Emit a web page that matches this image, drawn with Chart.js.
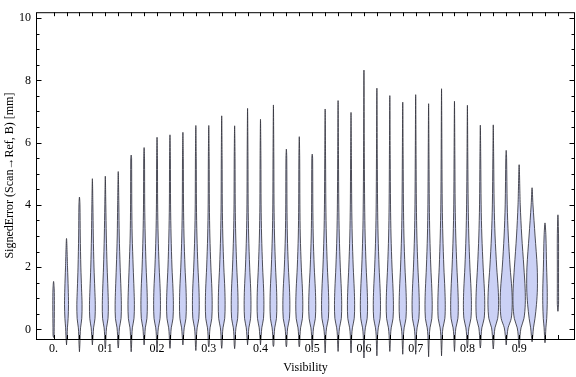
<!DOCTYPE html>
<html>
<head>
<meta charset="utf-8">
<script src="https://cdn.jsdelivr.net/npm/chart.js@4.4.0/dist/chart.umd.min.js"></script>
<style>
  html, body { margin: 0; padding: 0; background: #fff; }
  #wrap { width: 576px; height: 377px; }
</style>
</head>
<body>
<div id="wrap"><canvas id="violins"></canvas></div>
<script>
// violin centres (visibility)
const positions = [
  0, 0.025, 0.05, 0.075, 0.1, 0.125, 0.15, 0.175, 0.2, 0.225,
  0.25, 0.275, 0.3, 0.325, 0.35, 0.375, 0.4, 0.425, 0.45, 0.475,
  0.5, 0.525, 0.55, 0.575, 0.6, 0.625, 0.65, 0.675, 0.7, 0.725,
  0.75, 0.775, 0.8, 0.825, 0.85, 0.875, 0.9, 0.925, 0.95, 0.975
];

// top of each violin (mm)
const maxValues = [
  1.54, 2.92, 4.25, 4.84, 4.92, 5.07, 5.60, 5.84, 6.17, 6.25,
  6.33, 6.55, 6.55, 6.86, 6.54, 7.10, 6.75, 7.21, 5.79, 6.19,
  5.63, 7.08, 7.35, 6.97, 8.33, 7.75, 7.51, 7.30, 7.54, 7.25,
  7.73, 7.33, 7.20, 6.56, 6.57, 5.75, 5.29, 4.55, 3.42, 3.68
];

// bottom of each violin (mm)
const minValues = [
  -0.26, -0.50, -0.72, -0.50, -0.63, -0.60, -0.72, -0.50, -0.72, -0.61,
  -0.50, -0.68, -0.56, -0.61, -0.62, -0.50, -0.50, -0.55, -0.56, -0.56,
  -0.66, -0.76, -0.71, -0.76, -0.92, -0.85, -0.71, -0.80, -0.80, -0.88,
  -0.85, -0.71, -0.60, -0.60, -0.63, -0.50, -0.60, -0.40, -0.43, 0.58
];

// error levels where the violin half-width is sampled
const levels = [-0.5, -0.2, 0.05, 0.35, 0.8, 1.3, 2.0, 3.0, 4.0, 5.5];

// half-width (density) of each violin at those levels
const halfWidths = [
  [0, 0.5, 0.6, 0.7, 0.8, 0.6, 0, 0, 0, 0],
  [0.4, 0.6, 0.9, 1.6, 2.0, 1.7, 1.0, 0, 0, 0],
  [0.4, 0.7, 1.1, 2.3, 2.6, 2.1, 1.4, 0.8, 0.5, 0],
  [0.4, 0.7, 1.2, 2.6, 2.9, 2.4, 1.6, 0.9, 0.5, 0],
  [0.4, 0.7, 1.2, 2.7, 3.0, 2.6, 1.8, 1.0, 0.5, 0],
  [0.4, 0.7, 1.2, 2.8, 3.1, 2.7, 1.9, 1.0, 0.6, 0],
  [0.4, 0.7, 1.2, 2.8, 3.2, 2.8, 2.0, 1.0, 0.6, 0.4],
  [0.4, 0.7, 1.2, 2.8, 3.2, 2.9, 2.0, 1.1, 0.6, 0.4],
  [0.4, 0.7, 1.3, 3.0, 3.4, 3.1, 2.1, 1.1, 0.6, 0.4],
  [0.4, 0.7, 1.3, 3.0, 3.4, 3.0, 2.0, 1.1, 0.6, 0.4],
  [0.4, 0.7, 1.3, 3.0, 3.4, 3.1, 2.1, 1.1, 0.6, 0.4],
  [0.4, 0.7, 1.3, 3.0, 3.4, 3.1, 2.1, 1.1, 0.6, 0.4],
  [0.4, 0.7, 1.3, 3.0, 3.4, 3.1, 2.1, 1.1, 0.6, 0.4],
  [0.4, 0.7, 1.3, 3.0, 3.4, 3.1, 2.1, 1.1, 0.6, 0.4],
  [0.4, 0.7, 1.3, 3.0, 3.4, 3.1, 2.1, 1.1, 0.6, 0.4],
  [0.4, 0.7, 1.3, 3.0, 3.4, 3.1, 2.1, 1.1, 0.6, 0.4],
  [0.4, 0.7, 1.3, 3.0, 3.4, 3.1, 2.1, 1.1, 0.6, 0.4],
  [0.4, 0.7, 1.3, 3.0, 3.4, 3.1, 2.1, 1.1, 0.6, 0.4],
  [0.4, 0.7, 1.3, 3.1, 3.5, 3.1, 2.0, 1.0, 0.6, 0.4],
  [0.4, 0.7, 1.3, 3.1, 3.5, 3.1, 2.0, 1.0, 0.6, 0.4],
  [0.4, 0.7, 1.3, 3.1, 3.5, 3.1, 2.0, 1.0, 0.6, 0.4],
  [0.4, 0.7, 1.4, 3.2, 3.6, 3.2, 2.2, 1.2, 0.7, 0.4],
  [0.4, 0.7, 1.4, 3.2, 3.6, 3.2, 2.2, 1.2, 0.7, 0.4],
  [0.4, 0.7, 1.4, 3.2, 3.6, 3.2, 2.2, 1.2, 0.7, 0.4],
  [0.4, 0.7, 1.4, 3.2, 3.6, 3.2, 2.2, 1.2, 0.7, 0.4],
  [0.4, 0.7, 1.4, 3.2, 3.6, 3.2, 2.2, 1.2, 0.7, 0.4],
  [0.4, 0.7, 1.4, 3.2, 3.6, 3.2, 2.2, 1.2, 0.7, 0.4],
  [0.4, 0.7, 1.4, 3.2, 3.6, 3.2, 2.2, 1.2, 0.7, 0.4],
  [0.4, 0.7, 1.4, 3.2, 3.6, 3.2, 2.2, 1.2, 0.7, 0.4],
  [0.4, 0.7, 1.4, 3.2, 3.6, 3.2, 2.2, 1.2, 0.7, 0.4],
  [0.4, 0.7, 1.4, 3.3, 3.7, 3.3, 2.3, 1.3, 0.7, 0.4],
  [0.4, 0.7, 1.4, 3.4, 3.8, 3.4, 2.4, 1.3, 0.7, 0.4],
  [0.4, 0.8, 1.5, 3.5, 4.0, 3.6, 2.5, 1.4, 0.8, 0.4],
  [0.4, 0.8, 1.5, 3.8, 4.4, 4.0, 2.8, 1.5, 0.8, 0.4],
  [0.4, 0.9, 1.7, 4.4, 5.3, 4.9, 3.4, 1.8, 0.9, 0.4],
  [0.4, 0.9, 1.9, 5.0, 6.0, 5.6, 3.9, 2.1, 1.0, 0.4],
  [0.4, 0.9, 1.9, 4.8, 6.1, 6.0, 4.7, 2.6, 1.1, 0],
  [0, 0.7, 1.4, 2.9, 4.4, 5.3, 5.1, 3.0, 0.9, 0],
  [0, 0.5, 0.9, 1.7, 2.2, 2.2, 1.6, 0.9, 0, 0],
  [0, 0, 0, 0, 0.6, 0.6, 0.6, 0.6, 0, 0]
];

const xTickValues = [0, 0.1, 0.2, 0.3, 0.4, 0.5, 0.6, 0.7, 0.8, 0.9];
const xTickLabels = ['0.', '0.1', '0.2', '0.3', '0.4', '0.5', '0.6', '0.7', '0.8', '0.9'];
const yTickValues = [0, 2, 4, 6, 8, 10];
const yMinorValues = [0, 0.5, 1, 1.5, 2, 2.5, 3, 3.5, 4, 4.5, 5, 5.5, 6, 6.5, 7, 7.5, 8, 8.5, 9, 9.5, 10];

const WIDTH_SCALE = 0.00194; // one density unit ~ one pixel in visibility units
const FONT = { family: "'Liberation Serif', 'DejaVu Serif', serif", size: 12 };

// closed outline: up the right side, down the left side
function outline(i) {
  const x = positions[i];
  const lo = minValues[i];
  const hi = maxValues[i];
  const w = halfWidths[i];
  const inner = [];
  levels.forEach((y, k) => { if (y > lo && y < hi && w[k] > 0) inner.push({ y, k }); });
  const right = inner.map(p => ({ x: x + w[p.k] * WIDTH_SCALE, y: p.y }));
  const left = inner.slice().reverse().map(p => ({ x: x - w[p.k] * WIDTH_SCALE, y: p.y }));
  return [{ x, y: lo }, ...right, { x, y: hi }, ...left, { x, y: lo }];
}

const datasets = positions.map((p, i) => ({
  data: outline(i),
  showLine: true,
  fill: 'shape',
  backgroundColor: 'rgb(203, 209, 245)',
  borderColor: 'rgba(50, 50, 60, 0.85)',
  borderWidth: 1,
  pointRadius: 0,
  tension: 0.3,
  clip: false
}));

// frame with inward ticks on all four sides
const framePlugin = {
  id: 'frame',
  afterDraw(chart) {
    const { ctx, chartArea: a, scales } = chart;
    ctx.save();
    ctx.strokeStyle = '#000';
    ctx.lineWidth = 1;
    ctx.strokeRect(a.left + 0.5, a.top + 0.5, a.right - a.left - 1, a.bottom - a.top);
    ctx.beginPath();
    positions.forEach(v => {
      const px = Math.round(scales.x.getPixelForValue(v)) + 0.5;
      ctx.moveTo(px, a.bottom); ctx.lineTo(px, a.bottom - 4);
      ctx.moveTo(px, a.top); ctx.lineTo(px, a.top + 4);
    });
    yMinorValues.forEach(v => {
      const py = Math.round(scales.y.getPixelForValue(v)) + 0.5;
      const len = yTickValues.includes(v) ? 5.5 : 3.5;
      ctx.moveTo(a.left, py); ctx.lineTo(a.left + len, py);
      ctx.moveTo(a.right, py); ctx.lineTo(a.right - len, py);
    });
    ctx.stroke();
    ctx.restore();
  }
};

new Chart(document.getElementById('violins'), {
  type: 'scatter',
  data: { datasets },
  options: {
    responsive: true,
    maintainAspectRatio: false,
    animation: false,
    layout: { padding: { top: 5, right: 1, left: 0, bottom: 0 } },
    elements: { line: { capBezierPoints: false } },
    plugins: { legend: { display: false }, tooltip: { enabled: false } },
    scales: {
      x: {
        type: 'linear',
        min: -0.034,
        max: 1.008,
        grid: { display: false, drawTicks: false },
        border: { display: false },
        afterBuildTicks: s => { s.ticks = xTickValues.map(value => ({ value })); },
        afterFit: s => { s.height = 38; },
        ticks: {
          color: '#000',
          font: FONT,
          padding: 3,
          maxRotation: 0,
          autoSkip: false,
          callback: (v, idx) => xTickLabels[idx]
        },
        title: { display: true, text: 'Visibility', color: '#000', font: FONT, padding: { top: 0, bottom: 2 } }
      },
      y: {
        min: -0.31,
        max: 10.19,
        grid: { display: false, drawTicks: false },
        border: { display: false },
        afterBuildTicks: s => { s.ticks = yTickValues.map(value => ({ value })); },
        afterFit: s => { s.width = 36; },
        ticks: { color: '#000', font: FONT, padding: 5, callback: v => String(v) },
        title: {
          display: true,
          text: 'SignedError (Scan\u2192Ref, B) [mm]',
          color: '#000',
          font: FONT,
          padding: { top: 3, bottom: 0 }
        }
      }
    }
  },
  plugins: [framePlugin]
});
</script>
</body>
</html>
